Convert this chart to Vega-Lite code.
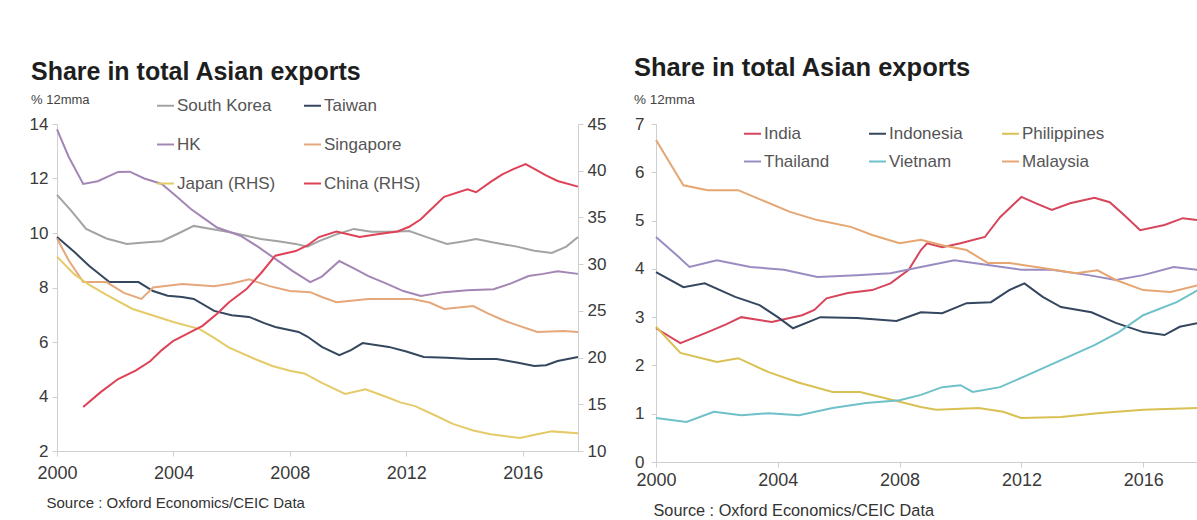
{
  "$schema": "https://vega.github.io/schema/vega-lite/v6.json",
  "background": "white",
  "padding": {"left": 29, "right": 0, "top": 56, "bottom": 0},
  "autosize": {"type": "pad"},
  "config": {
    "view": {"stroke": null},
    "font": "Liberation Sans",
    "axis": {"grid": false, "domainColor": "#cfcfcf", "tickColor": "#cfcfcf", "labelColor": "#3a3a3a", "labelFontSize": 17, "tickSize": 5, "labelPadding": 4},
    "axisX": {"labelFontSize": 18, "labelFlush": false},
    "legend": {"symbolType": "stroke", "symbolStrokeWidth": 2, "symbolSize": 289, "labelFontSize": 17, "labelColor": "#555555", "labelOffset": 2, "title": null},
    "line": {"strokeWidth": 2}
  },
  "datasets": {
    "left": [
      {"s":"South Korea","t":2000,"v":11.4},{"s":"South Korea","t":2000.5,"v":10.8},{"s":"South Korea","t":2001,"v":10.15},{"s":"South Korea","t":2001.7,"v":9.8},{"s":"South Korea","t":2002.4,"v":9.6},{"s":"South Korea","t":2003,"v":9.65},{"s":"South Korea","t":2003.6,"v":9.7},{"s":"South Korea","t":2004.2,"v":10.0},{"s":"South Korea","t":2004.7,"v":10.26},{"s":"South Korea","t":2005.3,"v":10.15},{"s":"South Korea","t":2005.9,"v":10.04},{"s":"South Korea","t":2006.5,"v":9.9},{"s":"South Korea","t":2007,"v":9.78},{"s":"South Korea","t":2007.6,"v":9.7},{"s":"South Korea","t":2008.2,"v":9.6},{"s":"South Korea","t":2008.6,"v":9.5},{"s":"South Korea","t":2009,"v":9.7},{"s":"South Korea","t":2009.6,"v":9.95},{"s":"South Korea","t":2010.2,"v":10.15},{"s":"South Korea","t":2010.8,"v":10.05},{"s":"South Korea","t":2011.5,"v":10.05},{"s":"South Korea","t":2012.1,"v":10.07},{"s":"South Korea","t":2012.7,"v":9.85},{"s":"South Korea","t":2013.4,"v":9.6},{"s":"South Korea","t":2014,"v":9.7},{"s":"South Korea","t":2014.4,"v":9.78},{"s":"South Korea","t":2015,"v":9.65},{"s":"South Korea","t":2015.8,"v":9.5},{"s":"South Korea","t":2016.4,"v":9.35},{"s":"South Korea","t":2017,"v":9.27},{"s":"South Korea","t":2017.5,"v":9.5},{"s":"South Korea","t":2017.9,"v":9.85},
      {"s":"Taiwan","t":2000,"v":9.85},{"s":"Taiwan","t":2000.6,"v":9.3},{"s":"Taiwan","t":2001.1,"v":8.8},{"s":"Taiwan","t":2001.8,"v":8.2},{"s":"Taiwan","t":2002.3,"v":8.2},{"s":"Taiwan","t":2002.8,"v":8.2},{"s":"Taiwan","t":2003.3,"v":7.87},{"s":"Taiwan","t":2003.8,"v":7.7},{"s":"Taiwan","t":2004.3,"v":7.65},{"s":"Taiwan","t":2004.7,"v":7.58},{"s":"Taiwan","t":2005.4,"v":7.14},{"s":"Taiwan","t":2006,"v":6.98},{"s":"Taiwan","t":2006.6,"v":6.92},{"s":"Taiwan","t":2007.1,"v":6.7},{"s":"Taiwan","t":2007.5,"v":6.55},{"s":"Taiwan","t":2008.3,"v":6.37},{"s":"Taiwan","t":2008.6,"v":6.2},{"s":"Taiwan","t":2009.1,"v":5.82},{"s":"Taiwan","t":2009.7,"v":5.52},{"s":"Taiwan","t":2010.1,"v":5.7},{"s":"Taiwan","t":2010.5,"v":5.96},{"s":"Taiwan","t":2011.4,"v":5.82},{"s":"Taiwan","t":2012,"v":5.65},{"s":"Taiwan","t":2012.6,"v":5.45},{"s":"Taiwan","t":2013.4,"v":5.42},{"s":"Taiwan","t":2014.2,"v":5.38},{"s":"Taiwan","t":2015.1,"v":5.38},{"s":"Taiwan","t":2015.8,"v":5.25},{"s":"Taiwan","t":2016.4,"v":5.12},{"s":"Taiwan","t":2016.8,"v":5.15},{"s":"Taiwan","t":2017.2,"v":5.3},{"s":"Taiwan","t":2017.9,"v":5.45},
      {"s":"HK","t":2000,"v":13.8},{"s":"HK","t":2000.4,"v":12.8},{"s":"HK","t":2000.9,"v":11.8},{"s":"HK","t":2001.4,"v":11.9},{"s":"HK","t":2002.1,"v":12.24},{"s":"HK","t":2002.5,"v":12.25},{"s":"HK","t":2003,"v":12.0},{"s":"HK","t":2003.6,"v":11.8},{"s":"HK","t":2004.1,"v":11.35},{"s":"HK","t":2004.6,"v":10.88},{"s":"HK","t":2005.1,"v":10.5},{"s":"HK","t":2005.5,"v":10.2},{"s":"HK","t":2006.3,"v":9.9},{"s":"HK","t":2006.9,"v":9.5},{"s":"HK","t":2007.5,"v":9.05},{"s":"HK","t":2008.1,"v":8.6},{"s":"HK","t":2008.7,"v":8.2},{"s":"HK","t":2009.1,"v":8.4},{"s":"HK","t":2009.7,"v":8.97},{"s":"HK","t":2010.2,"v":8.7},{"s":"HK","t":2010.7,"v":8.42},{"s":"HK","t":2011.3,"v":8.15},{"s":"HK","t":2011.9,"v":7.87},{"s":"HK","t":2012.5,"v":7.69},{"s":"HK","t":2013.3,"v":7.83},{"s":"HK","t":2014.1,"v":7.9},{"s":"HK","t":2015,"v":7.94},{"s":"HK","t":2015.6,"v":8.15},{"s":"HK","t":2016.2,"v":8.42},{"s":"HK","t":2016.7,"v":8.5},{"s":"HK","t":2017.2,"v":8.6},{"s":"HK","t":2017.9,"v":8.5},
      {"s":"Singapore","t":2000,"v":9.8},{"s":"Singapore","t":2000.4,"v":9.0},{"s":"Singapore","t":2000.9,"v":8.2},{"s":"Singapore","t":2001.7,"v":8.2},{"s":"Singapore","t":2002.3,"v":7.8},{"s":"Singapore","t":2002.9,"v":7.58},{"s":"Singapore","t":2003.3,"v":8.0},{"s":"Singapore","t":2004.3,"v":8.13},{"s":"Singapore","t":2005.4,"v":8.05},{"s":"Singapore","t":2006,"v":8.15},{"s":"Singapore","t":2006.6,"v":8.3},{"s":"Singapore","t":2007.3,"v":8.05},{"s":"Singapore","t":2008,"v":7.87},{"s":"Singapore","t":2008.7,"v":7.83},{"s":"Singapore","t":2009.1,"v":7.65},{"s":"Singapore","t":2009.6,"v":7.46},{"s":"Singapore","t":2010.7,"v":7.58},{"s":"Singapore","t":2012.2,"v":7.58},{"s":"Singapore","t":2012.8,"v":7.45},{"s":"Singapore","t":2013.3,"v":7.21},{"s":"Singapore","t":2014.3,"v":7.32},{"s":"Singapore","t":2014.8,"v":7.05},{"s":"Singapore","t":2015.4,"v":6.77},{"s":"Singapore","t":2016.5,"v":6.37},{"s":"Singapore","t":2017.4,"v":6.4},{"s":"Singapore","t":2017.9,"v":6.37},
      {"s":"Japan (RHS)","t":2000,"v":30.8},{"s":"Japan (RHS)","t":2000.6,"v":28.9},{"s":"Japan (RHS)","t":2001.1,"v":27.8},{"s":"Japan (RHS)","t":2001.7,"v":26.7},{"s":"Japan (RHS)","t":2002.6,"v":25.2},{"s":"Japan (RHS)","t":2003.3,"v":24.5},{"s":"Japan (RHS)","t":2004,"v":23.8},{"s":"Japan (RHS)","t":2004.9,"v":23.05},{"s":"Japan (RHS)","t":2005.4,"v":22.1},{"s":"Japan (RHS)","t":2005.9,"v":21.1},{"s":"Japan (RHS)","t":2006.8,"v":19.85},{"s":"Japan (RHS)","t":2007.4,"v":19.1},{"s":"Japan (RHS)","t":2008,"v":18.6},{"s":"Japan (RHS)","t":2008.5,"v":18.3},{"s":"Japan (RHS)","t":2009.1,"v":17.3},{"s":"Japan (RHS)","t":2009.9,"v":16.1},{"s":"Japan (RHS)","t":2010.6,"v":16.6},{"s":"Japan (RHS)","t":2011.3,"v":15.8},{"s":"Japan (RHS)","t":2011.8,"v":15.2},{"s":"Japan (RHS)","t":2012.3,"v":14.8},{"s":"Japan (RHS)","t":2013,"v":13.8},{"s":"Japan (RHS)","t":2013.6,"v":12.9},{"s":"Japan (RHS)","t":2014.3,"v":12.2},{"s":"Japan (RHS)","t":2014.9,"v":11.8},{"s":"Japan (RHS)","t":2015.9,"v":11.4},{"s":"Japan (RHS)","t":2016.5,"v":11.8},{"s":"Japan (RHS)","t":2017,"v":12.1},{"s":"Japan (RHS)","t":2017.9,"v":11.9},
      {"s":"China (RHS)","t":2000.9,"v":14.7},{"s":"China (RHS)","t":2001.5,"v":16.3},{"s":"China (RHS)","t":2002.1,"v":17.7},{"s":"China (RHS)","t":2002.7,"v":18.6},{"s":"China (RHS)","t":2003.2,"v":19.6},{"s":"China (RHS)","t":2003.6,"v":20.8},{"s":"China (RHS)","t":2004,"v":21.8},{"s":"China (RHS)","t":2004.5,"v":22.6},{"s":"China (RHS)","t":2005,"v":23.4},{"s":"China (RHS)","t":2005.5,"v":24.7},{"s":"China (RHS)","t":2005.9,"v":25.9},{"s":"China (RHS)","t":2006.5,"v":27.3},{"s":"China (RHS)","t":2007,"v":29.0},{"s":"China (RHS)","t":2007.5,"v":30.9},{"s":"China (RHS)","t":2008.2,"v":31.4},{"s":"China (RHS)","t":2008.6,"v":32.0},{"s":"China (RHS)","t":2009,"v":32.9},{"s":"China (RHS)","t":2009.6,"v":33.5},{"s":"China (RHS)","t":2010,"v":33.2},{"s":"China (RHS)","t":2010.4,"v":32.9},{"s":"China (RHS)","t":2011,"v":33.2},{"s":"China (RHS)","t":2011.7,"v":33.5},{"s":"China (RHS)","t":2012.1,"v":34.0},{"s":"China (RHS)","t":2012.5,"v":34.8},{"s":"China (RHS)","t":2012.9,"v":36.0},{"s":"China (RHS)","t":2013.3,"v":37.2},{"s":"China (RHS)","t":2014.1,"v":38.0},{"s":"China (RHS)","t":2014.4,"v":37.7},{"s":"China (RHS)","t":2014.9,"v":38.8},{"s":"China (RHS)","t":2015.3,"v":39.6},{"s":"China (RHS)","t":2015.7,"v":40.2},{"s":"China (RHS)","t":2016.1,"v":40.7},{"s":"China (RHS)","t":2016.4,"v":40.2},{"s":"China (RHS)","t":2016.8,"v":39.5},{"s":"China (RHS)","t":2017.2,"v":38.9},{"s":"China (RHS)","t":2017.9,"v":38.3}
    ],
    "right": [
      {"s":"India","t":2000,"v":2.77},{"s":"India","t":2000.8,"v":2.46},{"s":"India","t":2001.7,"v":2.69},{"s":"India","t":2002.3,"v":2.85},{"s":"India","t":2002.8,"v":3.0},{"s":"India","t":2003.8,"v":2.9},{"s":"India","t":2004.8,"v":3.04},{"s":"India","t":2005.2,"v":3.15},{"s":"India","t":2005.6,"v":3.39},{"s":"India","t":2006.3,"v":3.5},{"s":"India","t":2007.1,"v":3.56},{"s":"India","t":2007.7,"v":3.7},{"s":"India","t":2008.3,"v":3.98},{"s":"India","t":2008.7,"v":4.39},{"s":"India","t":2008.9,"v":4.53},{"s":"India","t":2009.4,"v":4.45},{"s":"India","t":2010,"v":4.53},{"s":"India","t":2010.8,"v":4.66},{"s":"India","t":2011.3,"v":5.07},{"s":"India","t":2012,"v":5.49},{"s":"India","t":2012.5,"v":5.35},{"s":"India","t":2013,"v":5.22},{"s":"India","t":2013.6,"v":5.36},{"s":"India","t":2014.4,"v":5.47},{"s":"India","t":2014.9,"v":5.38},{"s":"India","t":2015.4,"v":5.1},{"s":"India","t":2015.9,"v":4.8},{"s":"India","t":2016.7,"v":4.91},{"s":"India","t":2017.3,"v":5.05},{"s":"India","t":2017.8,"v":5.01},
      {"s":"Indonesia","t":2000,"v":3.93},{"s":"Indonesia","t":2000.9,"v":3.62},{"s":"Indonesia","t":2001.6,"v":3.7},{"s":"Indonesia","t":2002.6,"v":3.42},{"s":"Indonesia","t":2003.4,"v":3.25},{"s":"Indonesia","t":2004,"v":3.0},{"s":"Indonesia","t":2004.5,"v":2.77},{"s":"Indonesia","t":2005.4,"v":3.0},{"s":"Indonesia","t":2006.6,"v":2.98},{"s":"Indonesia","t":2007.9,"v":2.92},{"s":"Indonesia","t":2008.7,"v":3.1},{"s":"Indonesia","t":2009.4,"v":3.08},{"s":"Indonesia","t":2010.2,"v":3.29},{"s":"Indonesia","t":2011,"v":3.31},{"s":"Indonesia","t":2011.6,"v":3.56},{"s":"Indonesia","t":2012.1,"v":3.7},{"s":"Indonesia","t":2012.7,"v":3.42},{"s":"Indonesia","t":2013.3,"v":3.21},{"s":"Indonesia","t":2014.3,"v":3.1},{"s":"Indonesia","t":2015.1,"v":2.88},{"s":"Indonesia","t":2016,"v":2.69},{"s":"Indonesia","t":2016.7,"v":2.63},{"s":"Indonesia","t":2017.2,"v":2.8},{"s":"Indonesia","t":2017.8,"v":2.88},
      {"s":"Philippines","t":2000,"v":2.8},{"s":"Philippines","t":2000.8,"v":2.26},{"s":"Philippines","t":2002,"v":2.07},{"s":"Philippines","t":2002.7,"v":2.15},{"s":"Philippines","t":2003.7,"v":1.86},{"s":"Philippines","t":2004.7,"v":1.64},{"s":"Philippines","t":2005.8,"v":1.45},{"s":"Philippines","t":2006.7,"v":1.45},{"s":"Philippines","t":2007.8,"v":1.28},{"s":"Philippines","t":2008.7,"v":1.14},{"s":"Philippines","t":2009.2,"v":1.08},{"s":"Philippines","t":2010.6,"v":1.12},{"s":"Philippines","t":2011.4,"v":1.04},{"s":"Philippines","t":2012,"v":0.91},{"s":"Philippines","t":2013.3,"v":0.93},{"s":"Philippines","t":2014.5,"v":1.01},{"s":"Philippines","t":2016,"v":1.08},{"s":"Philippines","t":2017.8,"v":1.12},
      {"s":"Thailand","t":2000,"v":4.66},{"s":"Thailand","t":2000.6,"v":4.33},{"s":"Thailand","t":2001.1,"v":4.04},{"s":"Thailand","t":2002,"v":4.18},{"s":"Thailand","t":2003.1,"v":4.04},{"s":"Thailand","t":2004.2,"v":3.98},{"s":"Thailand","t":2005.3,"v":3.83},{"s":"Thailand","t":2006.6,"v":3.87},{"s":"Thailand","t":2007.7,"v":3.91},{"s":"Thailand","t":2008.7,"v":4.04},{"s":"Thailand","t":2009.8,"v":4.18},{"s":"Thailand","t":2010.9,"v":4.08},{"s":"Thailand","t":2012,"v":3.98},{"s":"Thailand","t":2013,"v":3.98},{"s":"Thailand","t":2014.2,"v":3.87},{"s":"Thailand","t":2015.1,"v":3.77},{"s":"Thailand","t":2016,"v":3.87},{"s":"Thailand","t":2017,"v":4.04},{"s":"Thailand","t":2017.8,"v":3.98},
      {"s":"Vietnam","t":2000,"v":0.91},{"s":"Vietnam","t":2001,"v":0.83},{"s":"Vietnam","t":2001.9,"v":1.04},{"s":"Vietnam","t":2002.8,"v":0.97},{"s":"Vietnam","t":2003.7,"v":1.01},{"s":"Vietnam","t":2004.7,"v":0.97},{"s":"Vietnam","t":2005.8,"v":1.12},{"s":"Vietnam","t":2006.9,"v":1.22},{"s":"Vietnam","t":2008,"v":1.28},{"s":"Vietnam","t":2008.7,"v":1.39},{"s":"Vietnam","t":2009.4,"v":1.55},{"s":"Vietnam","t":2010,"v":1.59},{"s":"Vietnam","t":2010.4,"v":1.45},{"s":"Vietnam","t":2011.3,"v":1.55},{"s":"Vietnam","t":2012.2,"v":1.8},{"s":"Vietnam","t":2013.3,"v":2.11},{"s":"Vietnam","t":2014.4,"v":2.42},{"s":"Vietnam","t":2015.2,"v":2.69},{"s":"Vietnam","t":2016,"v":3.04},{"s":"Vietnam","t":2017.1,"v":3.31},{"s":"Vietnam","t":2017.8,"v":3.56},
      {"s":"Malaysia","t":2000,"v":6.67},{"s":"Malaysia","t":2000.9,"v":5.73},{"s":"Malaysia","t":2001.7,"v":5.63},{"s":"Malaysia","t":2002.7,"v":5.63},{"s":"Malaysia","t":2003.3,"v":5.47},{"s":"Malaysia","t":2004.4,"v":5.18},{"s":"Malaysia","t":2005.3,"v":5.01},{"s":"Malaysia","t":2006.4,"v":4.87},{"s":"Malaysia","t":2007.1,"v":4.7},{"s":"Malaysia","t":2008,"v":4.53},{"s":"Malaysia","t":2008.7,"v":4.6},{"s":"Malaysia","t":2009.4,"v":4.49},{"s":"Malaysia","t":2010.2,"v":4.39},{"s":"Malaysia","t":2010.9,"v":4.12},{"s":"Malaysia","t":2011.6,"v":4.12},{"s":"Malaysia","t":2012.7,"v":4.02},{"s":"Malaysia","t":2013.8,"v":3.91},{"s":"Malaysia","t":2014.5,"v":3.97},{"s":"Malaysia","t":2015.1,"v":3.77},{"s":"Malaysia","t":2016,"v":3.56},{"s":"Malaysia","t":2016.9,"v":3.52},{"s":"Malaysia","t":2017.8,"v":3.66}
    ]
  },
  "hconcat": [
    {
      "width": 521,
      "height": 327,
      "title": {"text": "Share in total Asian exports", "subtitle": "% 12mma", "anchor": "start", "frame": "group", "dx": -26, "fontSize": 25, "fontWeight": "bold", "color": "#1e1e1e", "subtitleFontSize": 13, "subtitleColor": "#444444", "subtitlePadding": 9, "offset": -11},
      "data": {"name": "left"},
      "encoding": {
        "x": {"field": "t", "type": "quantitative", "scale": {"domain": [2000, 2017.9], "nice": false, "zero": false},
              "axis": {"values": [2000, 2004, 2008, 2012, 2016], "format": "d", "labelPadding": 8, "title": "Source : Oxford Economics/CEIC Data", "titleX": -11, "titleY": 51, "titleAlign": "left", "titleBaseline": "middle", "titleFontSize": 15, "titleFontWeight": "normal", "titleColor": "#333333"}},
        "color": {"field": "s", "type": "nominal",
                  "scale": {"domain": ["South Korea", "HK", "Japan (RHS)", "Taiwan", "Singapore", "China (RHS)"], "range": ["#a3a3a3", "#a486b4", "#e5cb68", "#34475f", "#e5a77c", "#de4256"]},
                  "legend": {"orient": "none", "legendX": 99, "legendY": -28, "columns": 2, "rowPadding": 21, "columnPadding": 24}}
      },
      "layer": [
        {"transform": [{"filter": "indexof(datum.s, 'RHS') < 0"}], "mark": {"type": "line"},
         "encoding": {"y": {"field": "v", "type": "quantitative", "scale": {"domain": [2, 14], "nice": false, "zero": false}, "axis": {"values": [2, 4, 6, 8, 10, 12, 14], "title": null}}}},
        {"transform": [{"filter": "indexof(datum.s, 'RHS') >= 0"}], "mark": {"type": "line"},
         "encoding": {"y": {"field": "v", "type": "quantitative", "scale": {"domain": [10, 45], "nice": false, "zero": false}, "axis": {"orient": "right", "values": [10, 15, 20, 25, 30, 35, 40, 45], "title": null}}}}
      ],
      "resolve": {"scale": {"y": "independent"}}
    },
    {
      "width": 542,
      "height": 338,
      "title": {"text": "Share in total Asian exports", "subtitle": "% 12mma", "anchor": "start", "frame": "group", "dx": -22, "fontSize": 25.5, "fontWeight": "bold", "color": "#1e1e1e", "subtitleFontSize": 13.5, "subtitleColor": "#444444", "subtitlePadding": 11, "offset": 9},
      "data": {"name": "right"},
      "mark": {"type": "line"},
      "encoding": {
        "x": {"field": "t", "type": "quantitative", "scale": {"domain": [2000, 2017.8], "nice": false, "zero": false},
              "axis": {"values": [2000, 2004, 2008, 2012, 2016], "format": "d", "labelPadding": 4, "title": "Source : Oxford Economics/CEIC Data", "titleX": -3, "titleY": 48, "titleAlign": "left", "titleBaseline": "middle", "titleFontSize": 16.3, "titleFontWeight": "normal", "titleColor": "#333333"}},
        "y": {"field": "v", "type": "quantitative", "scale": {"domain": [0, 7], "nice": false}, "axis": {"values": [0, 1, 2, 3, 4, 5, 6, 7], "title": null, "labelPadding": 7}},
        "color": {"field": "s", "type": "nominal",
                  "scale": {"domain": ["India", "Thailand", "Indonesia", "Vietnam", "Philippines", "Malaysia"], "range": ["#d6455b", "#9a8cc2", "#34475f", "#6fc1c9", "#d9c052", "#e6a672"]},
                  "legend": {"orient": "none", "legendX": 87, "legendY": 0, "columns": 3, "rowPadding": 10, "columnPadding": 35}}
      }
    }
  ],
  "bounds": "flush",
  "spacing": 78,
  "resolve": {"scale": {"color": "independent"}}
}
